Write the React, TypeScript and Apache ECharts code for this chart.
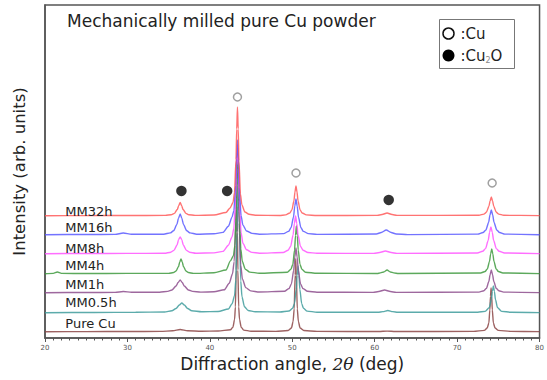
import React, { useEffect, useRef } from "react";
import * as echarts from "echarts";

const seriesNames = ["Pure Cu", "MM0.5h", "MM1h", "MM4h", "MM8h", "MM16h", "MM32h"];
const seriesColors = ["#8c4646", "#3f9c9c", "#8d4d8d", "#3f9a3f", "#ff55ff", "#5a5aff", "#ff5a5a"];
// vertical offsets of the stacked patterns (arb. units)
const offsets = [6, 25, 45, 64, 84, 103, 122];
// label heights (arb. units) and label angle
const labelAngle = 22.4;
const labelHeights = [15, 36, 54, 73, 90, 111, 127];

const pureCu = [[20,0.3],[25,0.4],[30,0.5],[34,0.6],[35.5,1.2],[36.4,2.5],[37.3,1.2],[39,0.8],[41,1],[42.5,2.2],[42.8,4.8],[43,12.5],[43.1,25],[43.2,62],[43.25,100],[43.3,125],[43.35,100],[43.4,62],[43.5,25],[43.6,12.5],[43.8,4.8],[44.1,1.9],[45,0.8],[48,0.6],[49.5,1.5],[49.9,4],[50.1,10.5],[50.23,23],[50.35,57],[50.42,73],[50.49,57],[50.61,23],[50.74,10.5],[50.95,4],[51.4,1.5],[53,0.6],[60.5,0.5],[61.5,0.9],[62.5,0.5],[72,0.6],[73.3,1.6],[73.65,4],[73.85,9],[73.97,22],[74.05,36],[74.12,44],[74.19,36],[74.27,22],[74.4,9],[74.6,4],[75,1.6],[76.5,0.6],[80,0.4]];

const mm05h = [[20,0.3],[26,0.5],[31,0.7],[34.5,1],[35.4,2.2],[35.9,4.5],[36.3,8],[36.6,10],[36.9,8],[37.3,4.5],[37.8,2.2],[39,1.2],[41,1.5],[42.25,4],[42.7,9.2],[43,17.5],[43.15,33],[43.3,80],[43.375,128],[43.45,160],[43.525,128],[43.6,80],[43.75,32],[43.9,16],[44.2,6.2],[44.65,2.5],[45.5,1.2],[48.5,1],[49.6,2],[50.04,4.7],[50.26,9.4],[50.48,23.5],[50.59,37.6],[50.7,47],[50.81,37.6],[50.92,23.5],[51.14,9.4],[51.36,4.7],[51.8,1.9],[53,0.8],[60.4,0.7],[61,1.4],[61.6,2.5],[62.2,1.4],[62.8,0.7],[72.5,0.8],[73.4,1.6],[73.9,5.4],[74.15,13.5],[74.275,21.6],[74.4,27],[74.525,21.6],[74.65,13.5],[74.9,5.4],[75.4,1.6],[76.5,0.8],[80,0.4]];

const mm1h = [[20,0.3],[25,0.5],[28.5,0.6],[29.5,1.5],[30.5,0.7],[33.9,0.8],[34.9,1.6],[35.4,3],[35.9,7],[36.15,10.5],[36.4,13],[36.65,10.5],[36.9,7],[37.4,3],[37.9,1.6],[38.9,0.9],[40.5,1.2],[41.75,3.2],[42.35,9.7],[42.75,19.3],[42.95,31.4],[43.15,72],[43.25,113.6],[43.35,141],[43.45,112],[43.55,70],[43.75,28],[43.95,14],[44.35,5.4],[44.95,2.1],[46,1],[49.05,1.7],[49.61,4.5],[49.89,9],[50.17,22.5],[50.31,36],[50.45,45],[50.59,36],[50.73,22.5],[51.01,9],[51.29,4.5],[51.85,1.7],[53,0.8],[59.8,0.6],[60.5,1.5],[61.2,3],[61.9,1.5],[62.6,0.6],[72.65,0.9],[73.25,2.3],[73.55,4.6],[73.85,11.5],[74,18.4],[74.15,23],[74.3,18.4],[74.45,11.5],[74.75,4.6],[75.05,2.3],[75.65,0.9],[80,0.4]];

const mm4h = [[20,0.3],[21,0.6],[21.5,2],[22,0.6],[25,0.5],[30,0.6],[35,0.6],[35.6,1.5],[35.9,3],[36.2,7.5],[36.35,12],[36.5,15],[36.65,12],[36.8,7.5],[37.1,3],[37.4,1.5],[38,0.6],[40.5,1.2],[41.96,4],[42.5,13.1],[42.86,18.3],[43.04,28.5],[43.22,64.7],[43.31,101.8],[43.4,126],[43.49,100],[43.58,62.5],[43.76,25],[43.94,12.5],[44.3,4.8],[44.84,1.9],[46,0.8],[49.4,1.8],[49.84,4.8],[50.06,9.6],[50.28,24],[50.39,38.4],[50.5,48],[50.61,38.4],[50.72,24],[50.94,9.6],[51.16,4.8],[51.6,1.8],[53,0.7],[60.3,0.5],[60.7,1.1],[61.1,2],[61.5,4],[61.9,2],[62.3,1.1],[62.9,0.5],[72.85,1],[73.39,2.5],[73.66,5],[73.93,12.5],[74.065,20],[74.2,25],[74.335,20],[74.47,12.5],[74.74,5],[75.01,2.5],[75.55,1],[80,0.4]];

const mm8h = [[20,0.3],[25,0.5],[30,0.6],[34.5,0.7],[35.26,1.8],[35.64,3.6],[36.02,9],[36.21,14.4],[36.4,17],[36.59,14.4],[36.78,9],[37.16,3.6],[37.54,1.8],[38.3,0.8],[40.5,1.1],[41.59,2.6],[42.25,8.7],[42.69,17],[42.91,25.5],[43.13,56],[43.24,88],[43.35,109.5],[43.46,86],[43.57,54],[43.79,21.6],[44.01,10.8],[44.45,4.2],[45.11,1.6],[46,0.8],[48.9,1.5],[49.5,3.8],[49.8,7.6],[50.1,19],[50.25,30.4],[50.4,38],[50.55,30.4],[50.7,19],[51,7.6],[51.3,3.8],[51.9,1.5],[53,0.7],[59.9,0.6],[60.6,1.5],[61.3,3],[62,1.5],[62.7,0.6],[72.45,1],[73.1,2.7],[73.44,5.4],[73.77,13.5],[73.935,21.6],[74.1,27],[74.265,21.6],[74.43,13.5],[74.76,5.4],[75.1,2.7],[75.75,1],[80,0.4]];

const mm16h = [[20,0.3],[25,0.5],[28.5,0.6],[29.5,2],[30.5,0.7],[34.4,0.8],[35.2,2.1],[35.6,4.2],[36,10.5],[36.2,16.8],[36.4,21],[36.6,16.8],[36.8,10.5],[37.2,4.2],[37.6,2.1],[38.4,0.8],[40.5,1.2],[41.59,2.6],[42.25,8.7],[42.69,17.9],[42.91,24.2],[43.13,49.8],[43.24,76.5],[43.35,95],[43.46,75.5],[43.57,47.7],[43.79,19.4],[44.01,9.9],[44.45,4],[45.11,1.6],[46,0.8],[48.95,1.4],[49.55,3.6],[49.85,7.2],[50.15,18],[50.3,28.8],[50.45,36],[50.6,28.8],[50.75,18],[51.05,7.2],[51.35,3.6],[51.95,1.4],[53,0.6],[60.2,1],[60.8,2.5],[61.4,5],[62,2.5],[62.6,1],[64,0.4],[72.5,0.9],[73.15,2.5],[73.49,5],[73.82,12.5],[73.985,20],[74.15,25],[74.315,20],[74.48,12.5],[74.81,5],[75.15,2.5],[75.8,0.9],[80,0.3]];

const mm32h = [[20,0.3],[25,0.4],[30,0.5],[34.6,0.6],[35.3,1.3],[35.7,2.6],[36.05,6.5],[36.23,10.5],[36.4,13.5],[36.57,10.5],[36.75,6.5],[37.1,2.6],[37.45,1.3],[38.2,0.6],[40.5,1],[41.95,3.5],[42.45,8],[42.81,13.5],[42.99,23.5],[43.17,56],[43.26,87],[43.35,109],[43.44,87],[43.53,55],[43.71,22],[43.89,11],[44.25,4],[44.75,1.7],[45.5,0.8],[48.45,0.5],[49.2,1.1],[49.7,3],[49.95,6],[50.2,15],[50.325,24],[50.45,30],[50.575,24],[50.7,15],[50.95,6],[51.2,3],[51.7,1.1],[53,0.5],[60.3,0.6],[60.9,1.5],[61.5,3],[62.1,1.5],[62.7,0.6],[72.65,0.7],[73.25,1.9],[73.55,3.8],[73.85,9.5],[74,15],[74.15,19],[74.3,15],[74.45,9.5],[74.75,3.8],[75.05,1.9],[75.65,0.7],[80,0.4]];

const patterns = [pureCu, mm05h, mm1h, mm4h, mm8h, mm16h, mm32h];

// phase markers (angle, height in arb. units)
const cuMarkers = [[43.35, 241], [50.45, 165], [74.25, 155]];
const cu2oMarkers = [[36.55, 147], [42.1, 147], [61.7, 138]];

const xTicks = { min: 20, max: 80, interval: 10 };

const FONT = "DejaVu Sans";

export default function App() {
  const ref = useRef<HTMLDivElement>(null);
  useEffect(() => {
    if (!ref.current) return;
    const chart = echarts.init(ref.current, undefined, { renderer: "svg" });
    const lineSeries = patterns.map((p, i) => ({
      type: "line",
      name: seriesNames[i],
      data: p.map(([x, y]) => [x, y + offsets[i]]),
      showSymbol: false,
      symbol: "none",
      smooth: 0.25,
      smoothMonotone: "x",
      lineStyle: { color: seriesColors[i], width: 1.4, opacity: 0.85 },
      z: 2 + i,
    }));
    const labelSeries = {
      type: "scatter",
      name: "labels",
      data: seriesNames.map((n, i) => ({ value: [labelAngle, labelHeights[i]], name: n })),
      symbolSize: 1,
      itemStyle: { color: "rgba(0,0,0,0)" },
      label: {
        show: true,
        position: "right",
        distance: 0,
        formatter: (p: any) => p.name,
        color: "#222",
        fontSize: 13,
        fontFamily: FONT,
        opacity: 1,
      },
      labelLayout: { hideOverlap: false },
      z: 20,
    };
    chart.setOption({
      animation: false,
      backgroundColor: "#ffffff",
      title: {
        text: "Mechanically milled pure Cu powder",
        left: 67,
        top: 12,
        padding: 0,
        textStyle: { fontSize: 17, fontWeight: "normal", color: "#222", fontFamily: FONT },
      },
      grid: {
        left: 45,
        right: 5,
        top: 5,
        bottom: 42,
        show: true,
        borderColor: "#555",
        borderWidth: 1.5,
        backgroundColor: "transparent",
      },
      xAxis: {
        type: "value",
        min: xTicks.min,
        max: xTicks.max,
        interval: xTicks.interval,
        name: "Diffraction angle, {i|2θ} (deg)",
        nameLocation: "middle",
        nameGap: 13,
        nameTextStyle: {
          fontSize: 17,
          color: "#222",
          fontFamily: FONT,
          rich: { i: { fontSize: 17, fontStyle: "italic", color: "#222", fontFamily: "DejaVu Serif" } },
        },
        axisLine: { show: true, lineStyle: { color: "#555", width: 1.5 } },
        axisTick: { show: true, inside: false, length: 4, lineStyle: { color: "#555" } },
        minorTick: { show: true, splitNumber: 10, length: 2.5, lineStyle: { color: "#555" } },
        splitLine: { show: false },
        axisLabel: { fontSize: 7, color: "#555", margin: 6, fontFamily: FONT },
      },
      yAxis: {
        type: "value",
        min: 0,
        max: 333,
        name: "Intensity (arb. units)",
        nameLocation: "middle",
        nameGap: 17,
        nameTextStyle: { fontSize: 16.5, color: "#222", fontFamily: FONT },
        axisLine: { show: true, lineStyle: { color: "#555", width: 1.5 } },
        axisTick: { show: false },
        axisLabel: { show: false },
        splitLine: { show: false },
      },
      series: [
        ...lineSeries,
        labelSeries,
        {
          type: "scatter",
          name: "Cu",
          data: cuMarkers,
          symbol: "circle",
          symbolSize: 8,
          itemStyle: { color: "#fff", borderColor: "#888", borderWidth: 1.5 },
          z: 30,
        },
        {
          type: "scatter",
          name: "Cu2O",
          data: cu2oMarkers,
          symbol: "circle",
          symbolSize: 10.5,
          itemStyle: { color: "#000" },
          z: 30,
        },
      ],
      graphic: [
        {
          type: "group",
          left: 439,
          top: 19,
          children: [
            { type: "rect", shape: { x: 0, y: 0, width: 75, height: 49 }, style: { fill: "#fff", stroke: "#777", lineWidth: 1 } },
            { type: "circle", shape: { cx: 9, cy: 14, r: 5.5 }, style: { fill: "#fff", stroke: "#111", lineWidth: 1.5 } },
            { type: "text", x: 21, y: 14, style: { text: ":Cu", fill: "#222", fontSize: 15, fontFamily: FONT, verticalAlign: "middle" } },
            { type: "circle", shape: { cx: 9, cy: 36, r: 6 }, style: { fill: "#000" } },
            {
              type: "text",
              x: 21,
              y: 36,
              style: {
                text: ":Cu{s|2}O",
                fill: "#222",
                fontSize: 15,
                fontFamily: FONT,
                verticalAlign: "middle",
                rich: { s: { fontSize: 8, fill: "#888", fontFamily: FONT, padding: [9, 0, 0, 0] } },
              },
            },
          ],
        },
      ],
    });
    return () => chart.dispose();
  }, []);
  return <div ref={ref} style={{ position: "fixed", left: 0, top: 0, width: 547, height: 380 }} />;
}
